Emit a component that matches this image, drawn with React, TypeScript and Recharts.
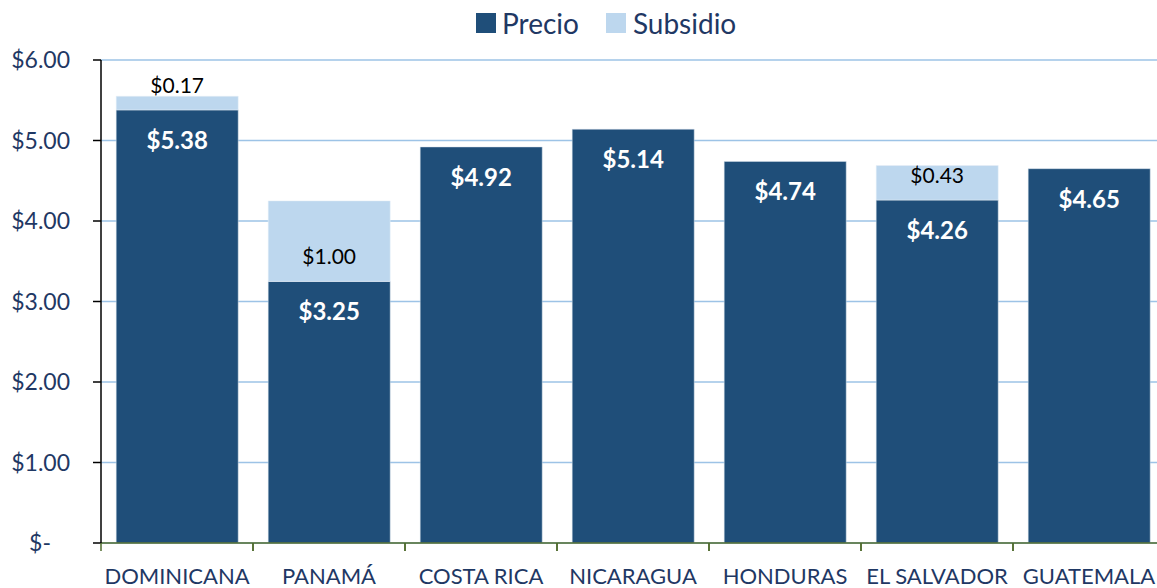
import { BarChart, Bar, XAxis, YAxis, CartesianGrid, Legend, LabelList } from 'recharts';

const paises = ['DOMINICANA', 'PANAMÁ', 'COSTA RICA', 'NICARAGUA', 'HONDURAS', 'EL SALVADOR', 'GUATEMALA'];
const precio = [5.38, 3.25, 4.92, 5.14, 4.74, 4.26, 4.65];
const subsidio = [0.17, 1.0, 0, 0, 0, 0.43, 0];
const yTicks = [0, 1, 2, 3, 4, 5, 6];

const data = paises.map((pais, i) => ({ pais, precio: precio[i], subsidio: subsidio[i] }));

const CHART_W = 1180;
const CHART_H = 588;
const MARGIN = { top: 10, right: 15, bottom: 0, left: 0 };
const Y_W = 101;
const HALF_BAND = (CHART_W - MARGIN.left - MARGIN.right - Y_W) / paises.length / 2;

const FONT = 'Lato, "Open Sans", sans-serif';
const DARK = '#1F4E79';
const LIGHT = '#BDD7EE';
const TEXT = '#1F3864';

const money = (v: number) => '$' + v.toFixed(2);

const XTick = (props: any) => {
    const { x, y, payload } = props;
    return (
        <g>
            <line x1={x - HALF_BAND} y1={y} x2={x - HALF_BAND} y2={y + 8} stroke="#4F6B2E" strokeWidth={1.5} />
            <line x1={x + HALF_BAND} y1={y} x2={x + HALF_BAND} y2={y + 8} stroke="#4F6B2E" strokeWidth={1.5} />
            <text x={x} y={y + 41} textAnchor="middle" fill={TEXT} fontSize={22} fontFamily={FONT}>
                {payload.value}
            </text>
        </g>
    );
};

const YTick = (props: any) => {
    const { x, y, payload } = props;
    const v = payload.value as number;
    return (
        <text
            x={v === 0 ? x - 42 : x - 23}
            y={y}
            dy="0.35em"
            textAnchor="end"
            fill={TEXT}
            fontSize={23}
            fontFamily={FONT}
        >
            {v === 0 ? '$-' : money(v)}
        </text>
    );
};

const LegendContent = () => (
    <div style={{ display: 'flex', alignItems: 'center', fontFamily: FONT, fontSize: 28, color: TEXT }}>
        <span style={{ width: 20, height: 20, background: DARK, display: 'inline-block', marginRight: 6 }} />
        <span style={{ marginRight: 27 }}>Precio</span>
        <span style={{ width: 20, height: 20, background: LIGHT, display: 'inline-block', marginRight: 7 }} />
        <span>Subsidio</span>
    </div>
);

const App = () => {
    return (
        <div style={{ position: 'absolute', left: 0, top: 0, width: 1157, height: 588, overflow: 'hidden', background: '#fff' }}>
            <BarChart width={CHART_W} height={CHART_H} data={data} margin={MARGIN} barCategoryGap="10%">
                <CartesianGrid vertical={false} stroke="#9DC3E6" strokeWidth={1.5} />
                <Legend
                    verticalAlign="top"
                    height={50}
                    content={<LegendContent />}
                    wrapperStyle={{ left: 476, top: 6, width: 300 }}
                />
                <XAxis
                    dataKey="pais"
                    height={45}
                    interval={0}
                    tickLine={false}
                    tickSize={0}
                    tickMargin={0}
                    axisLine={{ stroke: '#4F6B2E', strokeWidth: 1.5 }}
                    tick={<XTick />}
                />
                <YAxis
                    width={Y_W}
                    domain={[0, 6]}
                    ticks={yTicks}
                    tickSize={8}
                    tickMargin={0}
                    axisLine={{ stroke: '#000', strokeWidth: 1.5 }}
                    tickLine={{ stroke: '#000', strokeWidth: 1.5 }}
                    tick={<YTick />}
                />
                <Bar dataKey="precio" name="Precio" stackId="a" fill={DARK} stroke="#D9E2EC" strokeWidth={0.5} isAnimationActive={false}>
                    <LabelList
                        dataKey="precio"
                        position="insideTop"
                        offset={22}
                        formatter={(v: any) => money(Number(v))}
                        fill="#fff"
                        fontSize={24}
                        fontWeight="bold"
                        fontFamily={FONT}
                    />
                </Bar>
                <Bar dataKey="subsidio" name="Subsidio" stackId="a" fill={LIGHT} stroke="#E6EEF6" strokeWidth={0.5} isAnimationActive={false}>
                    <LabelList
                        dataKey="subsidio"
                        position="insideBottom"
                        offset={17}
                        formatter={(v: any) => (Number(v) > 0 ? money(Number(v)) : '')}
                        fill="#000"
                        fontSize={21}
                        fontFamily={FONT}
                    />
                </Bar>
            </BarChart>
        </div>
    );
};

export default App;
